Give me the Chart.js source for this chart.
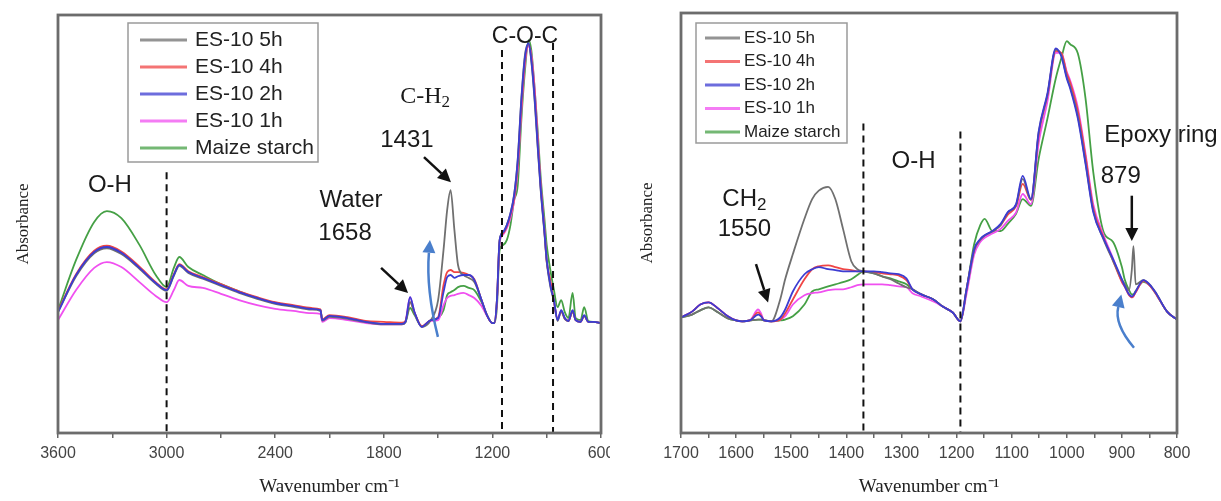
<!DOCTYPE html>
<html>
<head>
<meta charset="utf-8">
<script src="https://cdn.jsdelivr.net/npm/chart.js@4.4.1/dist/chart.umd.min.js"></script>
<style>
  html, body { margin: 0; padding: 0; background: #fff; }
  #wrap { position: relative; width: 1221px; height: 501px; overflow: hidden; }
  .panel { position: absolute; top: 0; height: 501px; }
</style>
</head>
<body>
<div id="wrap">
  <div class="panel" style="left:0;width:610px"><canvas id="leftChart" width="610" height="501"></canvas></div>
  <div class="panel" style="left:610px;width:611px"><canvas id="rightChart" width="611" height="501"></canvas></div>
</div>
<script>
// ---- data (absorbance in arbitrary units, 0 = bottom axis, 100 = top frame) ----
const seriesNames = ['ES-10 5h', 'ES-10 4h', 'ES-10 2h', 'ES-10 1h', 'Maize starch'];
const seriesColors = ['#707070', '#f04545', '#3c3cd2', '#f050f0', '#45a045'];

const leftWavenumbers = [
  3600, 3500, 3400, 3330, 3250, 3150, 3060, 3000,
  2960, 2930, 2880, 2800, 2700, 2600, 2500, 2400,
  2300, 2200, 2150, 2140, 2100, 2000, 1900, 1800,
  1700, 1680, 1655, 1630, 1590, 1540, 1500, 1470,
  1450, 1431, 1410, 1390, 1360, 1330, 1300, 1260,
  1230, 1200, 1190, 1175, 1160, 1140, 1120, 1100,
  1080, 1060, 1040, 1020, 1000, 985, 966, 950,
  934, 912, 900, 880, 860, 840, 820, 800,
  780, 757, 740, 713, 693, 670, 640, 600
];
const left5h = [
  28.9, 37.5, 43.0, 44.2, 42.8, 39.3, 35.7, 34.0,
  37.6, 40.0, 38.3, 36.9, 35.2, 33.5, 32.1, 30.9,
  30.2, 29.5, 29.2, 26.9, 27.8, 27.3, 26.5, 26.0,
  26.0, 26.5, 31.3, 28.7, 25.4, 27.0, 31.8, 43.8,
  53.3, 58.1, 48.6, 40.2, 37.8, 37.1, 36.1, 31.8,
  28.2, 26.3, 26.3, 31.8, 46.2, 48.1, 49.8, 52.6,
  57.0, 65.5, 80.0, 90.5, 93.0, 89.0, 79.0, 68.5,
  58.5, 47.5, 41.0, 35.0, 31.5, 26.8, 29.2, 27.3,
  26.8, 29.2, 27.0, 26.6, 28.0, 26.6, 26.6, 26.3
];
const left4h = [
  29.2, 38.0, 43.6, 44.8, 43.4, 39.8, 36.1, 34.4,
  38.0, 40.4, 38.7, 37.3, 35.6, 33.9, 32.5, 31.3,
  30.6, 29.9, 29.6, 27.2, 28.2, 27.7, 26.8, 26.6,
  26.4, 26.8, 31.3, 28.7, 25.6, 27.0, 27.7, 35.4,
  38.5, 39.0, 38.5, 38.5, 38.3, 37.8, 36.8, 31.8,
  28.2, 26.3, 26.3, 31.8, 46.0, 47.8, 49.5, 52.2,
  56.0, 64.0, 78.0, 89.0, 93.0, 90.0, 81.0, 70.0,
  59.5, 48.0, 41.0, 36.5, 31.5, 27.2, 29.0, 27.3,
  26.8, 29.0, 27.0, 26.6, 28.0, 26.6, 26.6, 26.3
];
const left2h = [
  28.9, 37.8, 43.3, 44.5, 43.1, 39.5, 35.9, 34.2,
  37.8, 40.2, 38.5, 37.1, 35.4, 33.7, 32.3, 31.1,
  30.4, 29.7, 29.4, 27.0, 28.0, 27.5, 26.6, 26.1,
  26.1, 26.6, 32.5, 28.9, 25.4, 27.0, 27.5, 33.7,
  37.3, 37.8, 37.1, 37.5, 37.8, 37.8, 36.6, 31.8,
  28.2, 26.3, 26.3, 31.8, 46.2, 48.1, 49.8, 52.6,
  56.9, 65.3, 79.7, 90.0, 93.3, 89.2, 79.7, 68.9,
  58.9, 47.8, 41.4, 35.4, 31.8, 27.0, 29.4, 27.5,
  26.8, 29.4, 27.0, 26.6, 28.2, 26.6, 26.6, 26.3
];
const left1h = [
  27.0, 34.2, 39.5, 40.9, 39.7, 36.1, 32.8, 31.3,
  34.2, 36.6, 35.2, 34.7, 33.3, 31.8, 30.6, 29.7,
  29.2, 28.7, 28.5, 26.6, 27.5, 27.0, 26.3, 26.0,
  26.0, 26.8, 32.5, 28.9, 25.4, 26.8, 27.0, 30.6,
  32.3, 32.8, 33.0, 33.3, 33.5, 33.0, 32.3, 30.4,
  28.0, 26.3, 26.3, 31.0, 45.5, 47.5, 49.0, 51.5,
  55.5, 63.0, 77.0, 88.5, 92.5, 90.5, 82.0, 71.0,
  60.0, 48.5, 41.5, 36.0, 31.5, 27.3, 29.3, 27.5,
  26.8, 29.2, 27.0, 26.6, 28.0, 26.6, 26.6, 26.3
];
const leftMaize = [
  29.4, 41.4, 50.5, 53.1, 51.4, 45.0, 37.8, 34.9,
  39.5, 42.1, 39.7, 37.8, 35.6, 33.9, 32.3, 31.1,
  30.4, 29.7, 29.4, 27.0, 28.0, 27.5, 26.6, 26.1,
  26.1, 26.6, 29.9, 28.2, 25.4, 27.0, 27.5, 29.4,
  33.0, 33.7, 34.2, 34.9, 35.2, 34.7, 34.2, 31.3,
  28.2, 26.3, 26.3, 30.0, 43.8, 45.0, 46.2, 49.8,
  55.7, 59.3, 74.9, 86.8, 94.0, 91.6, 82.1, 72.5,
  61.7, 51.0, 45.0, 39.0, 34.2, 30.1, 31.8, 28.9,
  27.5, 33.5, 27.5, 27.0, 30.1, 26.8, 26.6, 26.3
];

const rightWavenumbers = [
  1700, 1680, 1665, 1650, 1635, 1615, 1600, 1589,
  1575, 1560, 1555, 1549, 1536, 1520, 1511, 1497,
  1476, 1462, 1450, 1433, 1420, 1406, 1391, 1380,
  1369, 1350, 1335, 1320, 1305, 1291, 1280, 1264,
  1242, 1225, 1207, 1193, 1182, 1168, 1157, 1149,
  1135, 1120, 1107, 1092, 1080, 1065, 1051, 1035,
  1020, 1010, 1000, 994, 980, 966, 952, 933,
  916, 900, 895, 887, 882, 879, 875, 861,
  850, 839, 818, 800
];
const right5h = [
  27.5, 28.2, 29.2, 29.9, 28.9, 27.3, 26.8, 26.6,
  26.8, 27.0, 27.0, 26.8, 26.6, 31.8, 36.6, 42.6,
  51.0, 55.7, 57.7, 58.6, 55.7, 48.6, 40.9, 39.0,
  38.5, 38.0, 37.3, 36.6, 35.6, 34.7, 34.2, 33.0,
  31.8, 30.1, 28.7, 26.6, 34.0, 43.5, 46.0, 47.0,
  48.0, 49.5, 52.5, 54.3, 60.5, 55.5, 71.5, 80.5,
  91.3, 90.0, 84.8, 82.5, 75.5, 64.5, 53.0, 46.0,
  41.0, 36.5, 35.5, 34.0, 38.8, 44.5, 35.4, 36.4,
  35.4, 33.5, 28.9, 27.0
];
const right4h = [
  27.5, 28.9, 30.6, 31.1, 29.9, 27.8, 26.8, 26.6,
  26.8, 28.7, 28.0, 26.8, 26.6, 27.0, 28.5, 31.8,
  36.6, 39.0, 39.7, 39.9, 39.5, 39.0, 38.8, 38.5,
  38.5, 38.3, 38.0, 37.8, 37.5, 36.4, 34.2, 33.0,
  31.8, 30.1, 28.7, 26.6, 34.2, 43.5, 46.0, 47.0,
  48.0, 49.5, 52.0, 54.0, 59.3, 55.5, 71.0, 80.5,
  91.0, 90.5, 85.6, 83.5, 76.6, 65.8, 53.5, 46.5,
  41.0, 36.0, 34.9, 32.8, 32.3, 32.6, 33.5, 36.2,
  35.2, 33.3, 28.9, 27.0
];
const right2h = [
  27.5, 28.9, 30.6, 31.1, 29.9, 27.8, 26.8, 26.6,
  26.8, 28.2, 27.8, 26.8, 26.6, 27.5, 29.4, 33.7,
  37.8, 39.0, 39.5, 39.0, 38.8, 38.5, 38.5, 38.5,
  38.5, 38.5, 38.3, 38.0, 37.8, 36.8, 34.2, 33.0,
  31.8, 30.1, 28.7, 26.6, 34.2, 43.8, 46.2, 47.1,
  48.1, 49.8, 52.6, 54.5, 61.2, 55.7, 71.8, 80.9,
  91.6, 89.7, 84.4, 82.1, 74.9, 64.1, 52.6, 46.2,
  41.4, 36.6, 35.0, 33.0, 32.5, 32.8, 33.7, 36.4,
  35.4, 33.5, 28.9, 27.0
];
const right1h = [
  27.5, 28.9, 30.6, 31.1, 29.9, 27.8, 26.8, 26.6,
  26.8, 29.4, 28.5, 26.8, 26.6, 27.0, 27.8, 30.6,
  32.8, 33.3, 33.5, 34.0, 34.2, 34.2, 34.7, 35.2,
  35.4, 35.4, 35.4, 35.2, 34.9, 34.7, 33.3, 32.5,
  31.3, 30.1, 28.7, 26.6, 33.0, 42.5, 45.5, 46.5,
  47.5, 48.6, 50.5, 52.5, 56.9, 54.5, 69.0, 79.0,
  90.5, 90.5, 86.0, 84.0, 77.5, 66.5, 54.5, 47.0,
  41.5, 36.0, 34.9, 33.0, 32.3, 32.6, 33.5, 36.2,
  35.2, 33.3, 28.9, 27.0
];
const rightMaize = [
  27.5, 28.2, 29.2, 29.9, 28.9, 27.3, 26.8, 26.6,
  26.8, 27.0, 27.0, 26.8, 26.6, 26.8, 27.0, 27.8,
  30.6, 33.7, 34.2, 34.9, 35.4, 35.9, 36.6, 37.6,
  38.5, 38.0, 37.3, 36.8, 36.1, 35.4, 34.2, 33.0,
  31.8, 30.1, 28.7, 26.6, 34.0, 45.0, 49.5, 51.0,
  48.1, 48.1, 49.8, 52.2, 55.7, 54.1, 65.3, 74.9,
  84.4, 89.2, 93.3, 92.6, 90.4, 79.7, 62.2, 47.8,
  45.5, 39.5, 36.6, 34.0, 33.0, 33.0, 33.8, 36.0,
  35.2, 33.3, 28.9, 27.0
];

const leftSeries = [left5h, left4h, left2h, left1h, leftMaize];
const rightSeries = [right5h, right4h, right2h, right1h, rightMaize];
// draw order: lower = on top
const drawOrder = [1, 2, 0, 3, 4];

Chart.defaults.font.family = '"Liberation Sans", Arial, sans-serif';
Chart.defaults.color = '#444';

function drawArrow(ctx, x1, y1, x2, y2, color, bend) {
  const dx = x2 - x1, dy = y2 - y1, len = Math.hypot(dx, dy);
  const b = bend || 0;
  const cx = (x1 + x2) / 2 - dy / len * b, cy = (y1 + y2) / 2 + dx / len * b;
  const ang = Math.atan2(y2 - cy, x2 - cx);
  const hl = 13, hw = 6.5;
  const bx = x2 - Math.cos(ang) * hl, by = y2 - Math.sin(ang) * hl;
  ctx.strokeStyle = color; ctx.fillStyle = color; ctx.lineWidth = 2.5;
  ctx.beginPath(); ctx.moveTo(x1, y1); ctx.quadraticCurveTo(cx, cy, bx, by); ctx.stroke();
  ctx.beginPath(); ctx.moveTo(x2, y2);
  ctx.lineTo(bx - Math.sin(ang) * hw, by + Math.cos(ang) * hw);
  ctx.lineTo(bx + Math.sin(ang) * hw, by - Math.cos(ang) * hw);
  ctx.closePath(); ctx.fill();
}

// annotations, frame and boxed legend
const annotatePlugin = {
  id: 'annotate',
  afterDatasetsDraw(chart, args, opts) {
    const ctx = chart.ctx, a = chart.chartArea;
    const X = v => chart.scales.x.getPixelForValue(v);
    const Y = v => chart.scales.y.getPixelForValue(v);
    ctx.save();

    ctx.setLineDash([7, 5]);
    ctx.strokeStyle = '#111';
    ctx.lineWidth = 2;
    opts.dashed.forEach(d => {
      ctx.beginPath();
      ctx.moveTo(X(d.x), Y(d.top));
      ctx.lineTo(X(d.x), a.bottom);
      ctx.stroke();
    });
    ctx.setLineDash([]);

    ctx.strokeStyle = '#6c6c6c';
    ctx.lineWidth = 2.8;
    ctx.strokeRect(a.left, a.top, a.right - a.left, a.bottom - a.top);

    opts.arrows.forEach(ar => drawArrow(ctx, X(ar.from[0]), Y(ar.from[1]), X(ar.to[0]), Y(ar.to[1]), ar.color, ar.bend));

    ctx.fillStyle = '#1a1a1a';
    ctx.textBaseline = 'middle';
    ctx.textAlign = 'left';
    opts.labels.forEach(l => {
      const size = l.size || 24;
      const fam = l.serif ? '"Liberation Serif", "Times New Roman", serif' : '"Liberation Sans", Arial, sans-serif';
      ctx.font = size + 'px ' + fam;
      const w1 = ctx.measureText(l.text).width;
      let w2 = 0;
      if (l.sub) { ctx.font = Math.round(size * 0.7) + 'px ' + fam; w2 = ctx.measureText(l.sub).width; }
      const x0 = X(l.x) - (w1 + w2) / 2, y0 = Y(l.y);
      ctx.font = size + 'px ' + fam;
      ctx.fillText(l.text, x0, y0);
      if (l.sub) {
        ctx.font = Math.round(size * 0.7) + 'px ' + fam;
        ctx.fillText(l.sub, x0 + w1, y0 + size * 0.25);
      }
    });

    const lg = opts.legend;
    const bx = a.left + lg.dx, by = a.top + lg.dy;
    ctx.fillStyle = '#fff';
    ctx.fillRect(bx, by, lg.w, lg.h);
    ctx.strokeStyle = '#9a9a9a';
    ctx.lineWidth = 1.5;
    ctx.strokeRect(bx, by, lg.w, lg.h);
    ctx.font = lg.font + 'px "Liberation Sans", Arial, sans-serif';
    seriesNames.forEach((name, i) => {
      const yy = by + lg.first + i * lg.row;
      ctx.strokeStyle = seriesColors[i];
      ctx.globalAlpha = 0.75;
      ctx.lineWidth = 3;
      ctx.beginPath(); ctx.moveTo(bx + lg.l0, yy); ctx.lineTo(bx + lg.l1, yy); ctx.stroke();
      ctx.globalAlpha = 1;
      ctx.fillStyle = '#222';
      ctx.fillText(name, bx + lg.tx, yy);
    });
    ctx.restore();
  }
};

function makeChart(id, wavenumbers, series, cfg) {
  const datasets = series.map((vals, i) => ({
    label: seriesNames[i],
    data: vals.map((v, k) => ({ x: wavenumbers[k], y: v })),
    borderColor: seriesColors[i],
    borderWidth: 1.8,
    pointRadius: 0,
    cubicInterpolationMode: 'monotone',
    order: drawOrder[i]
  }));
  return new Chart(document.getElementById(id), {
    type: 'line',
    data: { datasets },
    plugins: [annotatePlugin],
    options: {
      responsive: false,
      animation: false,
      devicePixelRatio: 1,
      layout: { padding: { top: cfg.padTop, right: cfg.padRight, left: 0, bottom: 0 } },
      plugins: {
        legend: { display: false },
        tooltip: { enabled: false },
        annotate: cfg.annotate
      },
      scales: {
        x: {
          type: 'linear',
          reverse: true,
          min: cfg.min,
          max: cfg.max,
          afterFit: s => { s.height = 68; },
          afterBuildTicks: s => {
            s.ticks = [];
            for (let v = cfg.min; v <= cfg.max; v += cfg.minorStep) s.ticks.push({ value: v });
          },
          ticks: {
            autoSkip: false,
            maxRotation: 0,
            padding: 6,
            color: '#444',
            font: { size: 16 },
            callback: v => (v % cfg.majorStep === 0 ? String(v) : '')
          },
          grid: { display: true, drawOnChartArea: false, drawTicks: true, tickLength: 5, color: '#666', lineWidth: 1.5 },
          border: { display: false },
          title: {
            display: true,
            text: 'Wavenumber cm⁻¹',
            color: '#222',
            font: { size: 19, family: '"Liberation Serif", "Times New Roman", serif' },
            padding: { top: 0, bottom: 3 }
          }
        },
        y: {
          min: 0,
          max: 100,
          afterFit: s => { s.width = cfg.yWidth; },
          ticks: { display: false },
          grid: { display: false },
          border: { display: false },
          title: {
            display: true,
            text: 'Absorbance',
            color: '#222',
            font: { size: 17, family: '"Liberation Serif", "Times New Roman", serif' },
            padding: { top: cfg.yTitlePad, bottom: 0 }
          }
        }
      }
    }
  });
}

makeChart('leftChart', leftWavenumbers, leftSeries, {
  min: 600, max: 3600, minorStep: 300, majorStep: 600,
  padTop: 15, padRight: 9, yWidth: 58, yTitlePad: 13,
  annotate: {
    dashed: [{ x: 3000, top: 62.4 }, { x: 1147, top: 91.6 }, { x: 865, top: 93.3 }],
    arrows: [
      { from: [1578, 66.0], to: [1429, 60.0], color: '#111' },
      { from: [1815, 39.5], to: [1666, 33.5], color: '#111' },
      { from: [1501, 23.0], to: [1545, 46.2], color: '#4a7fcc', bend: -8 }
    ],
    labels: [
      { text: 'O-H', x: 3313, y: 59.3 },
      { text: 'Water', x: 1981, y: 55.7 },
      { text: '1658', x: 2014, y: 47.8 },
      { text: 'C-H', sub: '2', x: 1572, y: 80.4, serif: true },
      { text: '1431', x: 1672, y: 70.1 },
      { text: 'C-O-C', x: 1020, y: 94.7, size: 23 }
    ],
    legend: { dx: 70, dy: 8, w: 190, h: 139, font: 21, first: 17, row: 27, l0: 12, l1: 59, tx: 67 }
  }
});

makeChart('rightChart', rightWavenumbers, rightSeries, {
  min: 800, max: 1700, minorStep: 50, majorStep: 100,
  padTop: 13, padRight: 44, yWidth: 71, yTitlePad: 27,
  annotate: {
    dashed: [{ x: 1369, top: 73.7 }, { x: 1193, top: 71.8 }],
    arrows: [
      { from: [882, 56.5], to: [882, 45.7], color: '#111' },
      { from: [1564, 40.2], to: [1542, 31.1], color: '#111' },
      { from: [878, 20.3], to: [901, 33.0], color: '#4a7fcc', bend: -14 }
    ],
    labels: [
      { text: 'O-H', x: 1278, y: 64.6 },
      { text: 'CH', sub: '2', x: 1585, y: 55.7 },
      { text: '1550', x: 1585, y: 48.6 },
      { text: 'Epoxy ring', x: 829, y: 70.8 },
      { text: '879', x: 902, y: 61.2 }
    ],
    legend: { dx: 15, dy: 10, w: 151, h: 120, font: 17, first: 15, row: 23.5, l0: 9, l1: 44, tx: 48 }
  }
});
</script>
</body>
</html>
